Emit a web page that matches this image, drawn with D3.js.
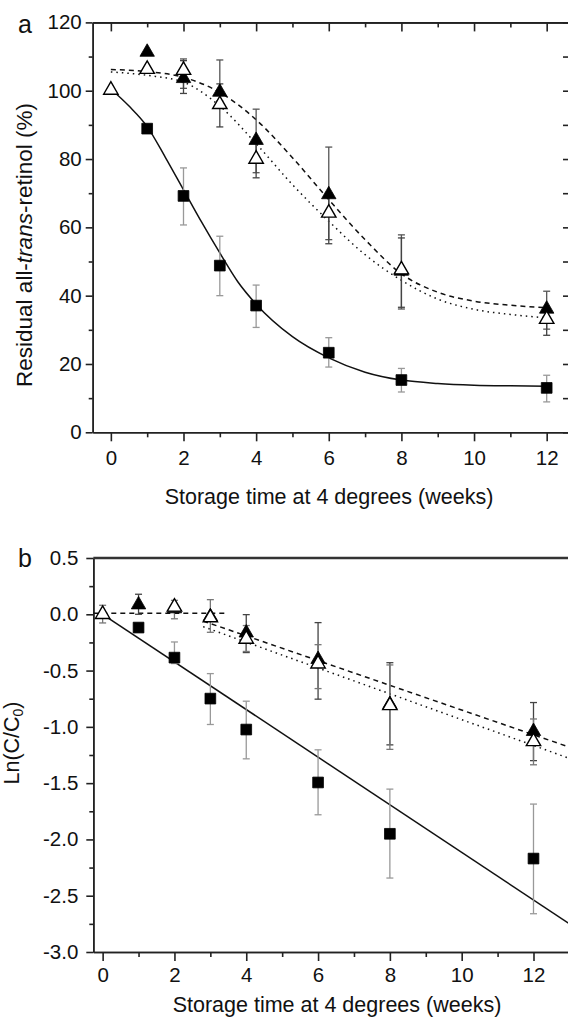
<!DOCTYPE html>
<html>
<head>
<meta charset="utf-8">
<script src="https://cdn.jsdelivr.net/npm/d3@7"></script>
<style>
  html, body { margin: 0; padding: 0; background: #fff; }
  svg { display: block; font-family: "Liberation Sans", Arial, sans-serif; }
  .axis path, .axis line { stroke: #222; stroke-width: 1.6; }
  .axis text { font-size: 20.5px; fill: #111; font-family: "Liberation Sans", Arial, sans-serif; }
</style>
</head>
<body>
<div id="chart"></div>
<script>
// ---- Panel a: residual all-trans-retinol (%) ----
const aSquareT  = [1, 2, 3, 4, 6, 8, 12];
const aSquareY  = [88.9, 69.2, 48.8, 37.1, 23.3, 15.3, 13.0];
const aSquareLo = [null, 60.7, 40.0, 30.7, 19.1, 11.8, 8.9];
const aSquareHi = [null, 77.4, 57.4, 43.1, 27.7, 18.7, 16.7];

const aFillT  = [1, 2, 3, 4, 6, 8, 12];
const aFillY  = [111.3, 103.6, 99.6, 85.5, 69.6, 47.2, 36.1];
const aFillLo = [null, 100.7, 97.0, 76.0, 56.4, 36.1, 30.2];
const aFillHi = [null, 109.3, 109.0, 94.6, 83.5, 57.8, 41.3];

const aOpenT  = [0, 1, 2, 3, 4, 6, 8, 12];
const aOpenY  = [100.2, 106.3, 106.0, 96.0, 80.0, 64.2, 47.6, 33.1];
const aOpenLo = [null, null, 99.2, 89.4, 74.5, 55.2, 36.6, 28.4];
const aOpenHi = [null, null, 108.8, 102.0, 86.0, 70.0, 56.9, 36.0];

// fitted curves
const aSolidT  = [0, 0.5, 1, 1.5, 2, 2.5, 3, 3.5, 4, 5, 6, 7, 8, 9, 10, 11, 12];
const aSolidY  = [100.5, 95.5, 89.5, 80.5, 71, 61.5, 52.5, 44, 37.5, 28, 21.8, 17.6, 15.3, 14.3, 13.8, 13.6, 13.5];
const aDashT   = [0, 1, 2, 3, 4, 5, 6, 7, 8, 9, 10, 11, 12];
const aDashY   = [106.2, 105.6, 103.9, 99.5, 91.5, 80.4, 68.1, 56.4, 46.4, 41, 38.4, 37.2, 36.5];
const aDotT    = [0, 1, 2, 3, 4, 5, 6, 7, 8, 9, 10, 11, 12];
const aDotY    = [105.5, 104.5, 102.5, 95.5, 84.5, 72.5, 61.8, 52, 44.5, 39, 36, 34.5, 33.5];

// ---- Panel b: Ln(C/C0) ----
const bSquareT  = [1, 2, 3, 4, 6, 8, 12];
const bSquareY  = [-0.118, -0.385, -0.749, -1.024, -1.494, -1.95, -2.17];
const bSquareLo = [null, -0.438, -0.979, -1.284, -1.781, -2.343, -2.66];
const bSquareHi = [null, -0.246, -0.527, -0.772, -1.204, -1.553, -1.686];

const bFillT  = [1, 2, 3, 4, 6, 8, 12];
const bFillY  = [0.085, 0.05, -0.02, -0.165, -0.40, -0.80, -1.04];
const bFillLo = [0.0, null, null, -0.34, -0.754, -1.16, -1.30];
const bFillHi = [0.178, null, null, -0.003, -0.074, -0.43, -0.784];

const bOpenT  = [0, 2, 3, 4, 6, 8, 12];
const bOpenY  = [0, 0.065, -0.03, -0.22, -0.44, -0.81, -1.13];
const bOpenLo = [-0.077, -0.04, -0.16, -0.33, -0.66, -1.20, -1.337];
const bOpenHi = [0.08, 0.124, 0.13, -0.10, -0.27, -0.45, -0.93];

const bSolidT = [0, 13];
const bSolidY = [0, -2.75];
const bFlatT  = [-0.26, 3.45];
const bFlatY  = [0.01, 0.01];
const bDashT  = [2.8, 13];
const bDashY  = [-0.06, -1.18];
const bDotT   = [2.8, 13];
const bDotY   = [-0.11, -1.28];

// tick values
const aYMajor = [0, 20, 40, 60, 80, 100, 120];
const aYMinor = [10, 30, 50, 70, 90, 110];
const bYMajor = [-3.0, -2.5, -2.0, -1.5, -1.0, -0.5, 0.0, 0.5];
const bYMinor = [-2.75, -2.25, -1.75, -1.25, -0.75, -0.25, 0.25];
const xMajor = [0, 2, 4, 6, 8, 10, 12];
const xMinor = [1, 3, 5, 7, 9, 11, 13];

const width = 568, height = 1017;

const svg = d3.select("#chart").append("svg")
    .attr("width", width)
    .attr("height", height);

const zip = (t, y, lo, hi) => t.map((d, i) => ({t: d, y: y[i], lo: lo ? lo[i] : null, hi: hi ? hi[i] : null}));
// plain hyphen for negatives, like the original figure
const fmt1 = d => d3.format(".1f")(d).replace("\u2212", "-");

function drawPanel(cfg) {
    const x = cfg.x, y = cfg.y;
    const [x0, x1] = x.range();
    const [y0, y1] = y.range(); // y0 bottom, y1 top

    const clipId = "clip-" + cfg.name;
    svg.append("clipPath").attr("id", clipId)
        .append("rect").attr("x", x0).attr("y", y1).attr("width", x1 - x0).attr("height", y0 - y1);

    // axes
    svg.append("g").attr("class", "axis")
        .attr("transform", `translate(${x0},0)`)
        .call(d3.axisLeft(y).tickValues(cfg.yMajor).tickSize(7).tickSizeOuter(0)
            .tickPadding(cfg.yPad).tickFormat(cfg.yFormat));
    svg.append("g").attr("class", "axis")
        .attr("transform", `translate(${x0},0)`)
        .call(d3.axisLeft(y).tickValues(cfg.yMinor).tickSize(4).tickSizeOuter(0).tickFormat(""));

    svg.append("g").attr("class", "axis")
        .attr("transform", `translate(0,${y0})`)
        .call(d3.axisBottom(x).tickValues(xMajor).tickSize(9).tickSizeOuter(0)
            .tickPadding(cfg.xPad).tickFormat(d3.format("d")));
    svg.append("g").attr("class", "axis")
        .attr("transform", `translate(0,${y0})`)
        .call(d3.axisBottom(x).tickValues(xMinor).tickSize(5).tickSizeOuter(0).tickFormat(""));

    if (cfg.topTicks) {
        svg.append("g").attr("class", "axis")
            .attr("transform", `translate(0,${y1})`)
            .call(d3.axisBottom(x).tickValues(xMajor).tickSize(9).tickSizeOuter(0).tickFormat(""));
        svg.append("g").attr("class", "axis")
            .attr("transform", `translate(0,${y1})`)
            .call(d3.axisBottom(x).tickValues(xMinor).tickSize(5).tickSizeOuter(0).tickFormat(""));
        svg.append("g").attr("class", "axis")
            .attr("transform", `translate(${cfg.rightX},0)`)
            .call(d3.axisLeft(y).tickValues(cfg.yMajor.concat(cfg.yMinor)).tickSize(9).tickSizeOuter(0).tickFormat(""));
    } else {
        svg.append("line")
            .attr("x1", x0).attr("x2", x1).attr("y1", y1).attr("y2", y1)
            .attr("stroke", "#333").attr("stroke-width", 2.6);
    }

    // fit lines
    const line = d3.line().x(d => x(d.t)).y(d => y(d.y)).curve(d3.curveMonotoneX);
    const plot = svg.append("g").attr("clip-path", `url(#${clipId})`);
    cfg.fits.forEach(f => {
        plot.append("path")
            .datum(zip(f.t, f.y))
            .attr("fill", "none")
            .attr("stroke", "#111")
            .attr("stroke-width", f.w || 1.5)
            .attr("stroke-dasharray", f.dash || null)
            .attr("d", line);
    });

    // error bars
    cfg.series.forEach(s => {
        const data = zip(s.t, s.y, s.lo, s.hi).filter(d => d.lo != null && d.hi != null);
        const g = svg.append("g").attr("stroke", s.errColor).attr("stroke-width", 1.3);
        g.selectAll(".bar").data(data).join("line")
            .attr("x1", d => x(d.t)).attr("x2", d => x(d.t))
            .attr("y1", d => y(d.lo)).attr("y2", d => y(d.hi));
        g.selectAll(".capLo").data(data).join("line")
            .attr("x1", d => x(d.t) - 3.5).attr("x2", d => x(d.t) + 3.5)
            .attr("y1", d => y(d.lo)).attr("y2", d => y(d.lo));
        g.selectAll(".capHi").data(data).join("line")
            .attr("x1", d => x(d.t) - 3.5).attr("x2", d => x(d.t) + 3.5)
            .attr("y1", d => y(d.hi)).attr("y2", d => y(d.hi));
    });

    // markers
    cfg.series.forEach(s => {
        svg.append("g").selectAll("path").data(zip(s.t, s.y)).join("path")
            .attr("transform", d => `translate(${x(d.t)},${y(d.y)})`)
            .attr("d", d3.symbol(s.symbol, s.size)())
            .attr("fill", s.fill)
            .attr("stroke", "#000")
            .attr("stroke-width", s.fill === "#fff" ? 1.4 : 0.8);
    });

    // panel letter
    svg.append("text")
        .attr("x", cfg.letterX).attr("y", cfg.letterY)
        .attr("font-size", 25).attr("fill", "#111")
        .text(cfg.name);

    // x title
    svg.append("text")
        .attr("x", cfg.xTitleX).attr("y", cfg.xTitleY)
        .attr("text-anchor", "middle")
        .attr("font-size", 21.5).attr("fill", "#111")
        .text("Storage time at 4 degrees (weeks)");
}

// panel a
drawPanel({
    name: "a",
    x: d3.scaleLinear().domain([-0.5, 13]).range([92.7, 583]),
    y: d3.scaleLinear().domain([0, 120]).range([432.3, 22.4]),
    yMajor: aYMajor, yMinor: aYMinor, yFormat: d3.format("d"),
    yPad: 4, xPad: 9, topTicks: true, rightX: 572,
    letterX: 18, letterY: 33,
    xTitleX: 329, xTitleY: 504,
    fits: [
        {t: aSolidT, y: aSolidY},
        {t: aDashT, y: aDashY, dash: "5,4"},
        {t: aDotT, y: aDotY, dash: "1.5,4"}
    ],
    series: [
        {t: aSquareT, y: aSquareY, lo: aSquareLo, hi: aSquareHi, symbol: d3.symbolSquare, size: 115, fill: "#000", errColor: "#999"},
        {t: aFillT, y: aFillY, lo: aFillLo, hi: aFillHi, symbol: d3.symbolTriangle, size: 90, fill: "#000", errColor: "#555"},
        {t: aOpenT, y: aOpenY, lo: aOpenLo, hi: aOpenHi, symbol: d3.symbolTriangle, size: 90, fill: "#fff", errColor: "#444"}
    ]
});

// panel b
drawPanel({
    name: "b",
    x: d3.scaleLinear().domain([-0.26, 13]).range([93.3, 569.4]),
    y: d3.scaleLinear().domain([-3, 0.5]).range([952, 558]),
    yMajor: bYMajor, yMinor: bYMinor, yFormat: fmt1,
    yPad: 8, xPad: 6.5, topTicks: false,
    letterX: 18, letterY: 567,
    xTitleX: 337, xTitleY: 1012,
    fits: [
        {t: bSolidT, y: bSolidY},
        {t: bFlatT, y: bFlatY, dash: "5,4"},
        {t: bDashT, y: bDashY, dash: "5,4"},
        {t: bDotT, y: bDotY, dash: "1.5,4"}
    ],
    series: [
        {t: bSquareT, y: bSquareY, lo: bSquareLo, hi: bSquareHi, symbol: d3.symbolSquare, size: 115, fill: "#000", errColor: "#999"},
        {t: bFillT, y: bFillY, lo: bFillLo, hi: bFillHi, symbol: d3.symbolTriangle, size: 90, fill: "#000", errColor: "#444"},
        {t: bOpenT, y: bOpenY, lo: bOpenLo, hi: bOpenHi, symbol: d3.symbolTriangle, size: 90, fill: "#fff", errColor: "#777"}
    ]
});

// y titles
const ta = svg.append("text")
    .attr("transform", "translate(32,245) rotate(-90)")
    .attr("text-anchor", "middle")
    .attr("font-size", 22.5).attr("fill", "#111");
ta.append("tspan").text("Residual all-");
ta.append("tspan").attr("font-style", "italic").text("trans");
ta.append("tspan").text("-retinol (%)");

const tb = svg.append("text")
    .attr("transform", "translate(19,743) rotate(-90)")
    .attr("text-anchor", "middle")
    .attr("font-size", 21.5).attr("fill", "#111");
tb.append("tspan").text("Ln(C/C");
tb.append("tspan").attr("font-size", 14).attr("dy", 4).text("0");
tb.append("tspan").attr("dy", -4).text(")");
</script>
</body>
</html>
